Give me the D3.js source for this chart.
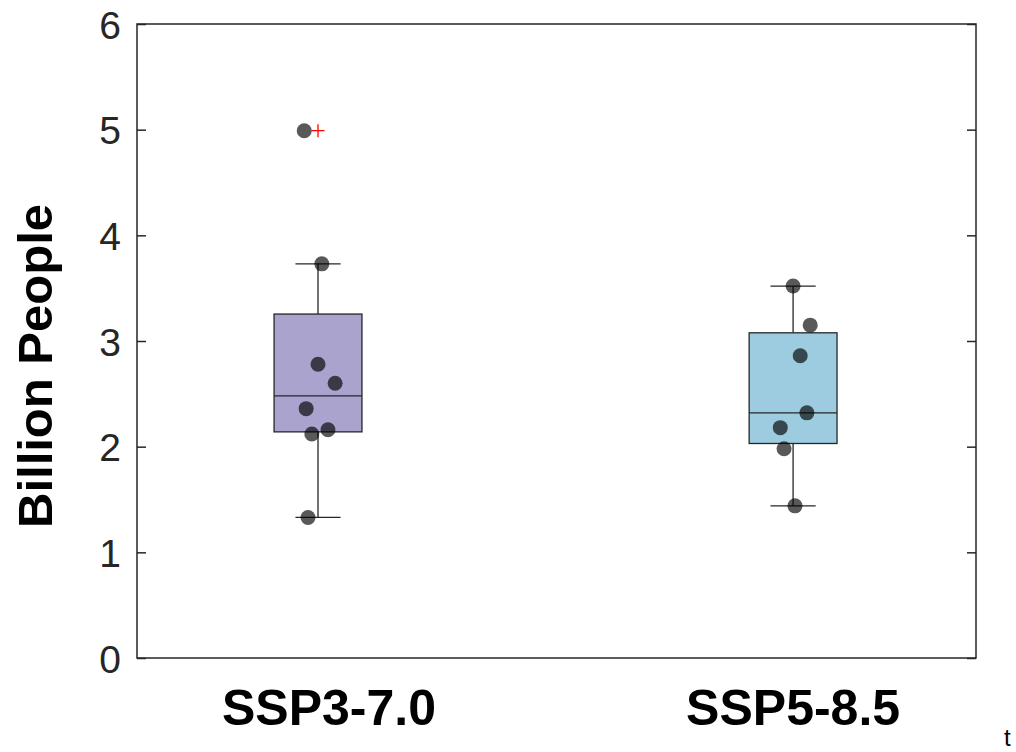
<!DOCTYPE html>
<html>
<head>
<meta charset="utf-8">
<script src="https://cdn.jsdelivr.net/npm/d3@7"></script>
<style>
  body { margin: 0; background: #fff; }
  svg text { font-family: "Liberation Sans", Arial, sans-serif; }
</style>
</head>
<body>
<div id="chart"></div>
<script>
var svgWidth = 1016;
var svgHeight = 752;

var plot = { left: 137, right: 976, top: 24, bottom: 658 };

// data
var scenarios = ["SSP3-7.0", "SSP5-8.5"];
var boxColors = ["#aaa3cd", "#9dcce0"];
var ssp370 = [4.99, 3.73, 2.78, 2.60, 2.36, 2.12, 2.16, 1.33];
var ssp370Jitter = [-0.029, 0.008, 0, 0.036, -0.025, -0.013, 0.021, -0.021];
var ssp585 = [3.52, 3.15, 2.86, 2.32, 2.18, 1.98, 1.44];
var ssp585Jitter = [0, 0.036, 0.015, 0.029, -0.027, -0.019, 0.004];
var yTicks = [0, 1, 2, 3, 4, 5, 6];

var groups = [
  { name: scenarios[0], values: ssp370, jitter: ssp370Jitter, color: boxColors[0] },
  { name: scenarios[1], values: ssp585, jitter: ssp585Jitter, color: boxColors[1] }
];

var axisColor = "#262626";

var svg = d3.select("#chart")
  .append("svg")
  .attr("width", svgWidth)
  .attr("height", svgHeight);

var xScale = d3.scaleLinear()
  .domain([0.619, 2.385])
  .range([plot.left, plot.right]);

var yScale = d3.scaleLinear()
  .domain([0, 6])
  .range([plot.bottom, plot.top]);

// matlab style percentile
function prctile(vals, p) {
  var s = vals.slice().sort(d3.ascending);
  var n = s.length;
  var pos = p * n + 0.5;
  if (pos <= 1) return s[0];
  if (pos >= n) return s[n - 1];
  var lo = Math.floor(pos);
  return s[lo - 1] + (pos - lo) * (s[lo] - s[lo - 1]);
}

function boxStats(vals) {
  var q1 = prctile(vals, 0.25);
  var q3 = prctile(vals, 0.75);
  var med = prctile(vals, 0.5);
  var iqr = q3 - q1;
  var inside = vals.filter(v => v >= q1 - 1.5 * iqr && v <= q3 + 1.5 * iqr);
  return {
    q1: q1, q3: q3, med: med,
    lo: d3.min(inside), hi: d3.max(inside),
    outliers: vals.filter(v => v < q1 - 1.5 * iqr || v > q3 + 1.5 * iqr)
  };
}

var boxW = 0.185;
var capW = 0.095;

groups.forEach(function (g, i) {
  var pos = i + 1;
  var st = boxStats(g.values);
  var cx = xScale(pos);
  var gg = svg.append("g");

  // whiskers
  gg.append("line")
    .attr("x1", cx).attr("x2", cx)
    .attr("y1", yScale(st.q3)).attr("y2", yScale(st.hi))
    .attr("stroke", axisColor).attr("stroke-width", 1.3);
  gg.append("line")
    .attr("x1", cx).attr("x2", cx)
    .attr("y1", yScale(st.q1)).attr("y2", yScale(st.lo))
    .attr("stroke", axisColor).attr("stroke-width", 1.3);
  [st.hi, st.lo].forEach(function (v) {
    gg.append("line")
      .attr("x1", xScale(pos - capW / 2)).attr("x2", xScale(pos + capW / 2))
      .attr("y1", yScale(v)).attr("y2", yScale(v))
      .attr("stroke", axisColor).attr("stroke-width", 1.3);
  });

  // box
  gg.append("rect")
    .attr("x", xScale(pos - boxW / 2))
    .attr("width", xScale(pos + boxW / 2) - xScale(pos - boxW / 2))
    .attr("y", yScale(st.q3))
    .attr("height", yScale(st.q1) - yScale(st.q3))
    .attr("fill", g.color)
    .attr("stroke", axisColor)
    .attr("stroke-width", 1.3);

  gg.append("line")
    .attr("x1", xScale(pos - boxW / 2)).attr("x2", xScale(pos + boxW / 2))
    .attr("y1", yScale(st.med)).attr("y2", yScale(st.med))
    .attr("stroke", axisColor).attr("stroke-width", 1.3);

  // outliers as red plus
  st.outliers.forEach(function (v) {
    var oy = yScale(v);
    gg.append("path")
      .attr("d", `M${cx - 6.5},${oy}H${cx + 6.5}M${cx},${oy - 6.5}V${oy + 6.5}`)
      .attr("stroke", "#ff0000")
      .attr("stroke-width", 1.3)
      .attr("fill", "none");
  });

  // data points
  gg.selectAll("circle")
    .data(g.values)
    .enter()
    .append("circle")
    .attr("cx", (d, j) => xScale(pos + g.jitter[j]))
    .attr("cy", d => yScale(d))
    .attr("r", 7.5)
    .attr("fill", "#000")
    .attr("opacity", 0.65);
});

// axes box
var leftAxis = d3.axisLeft(yScale).tickValues(yTicks).tickFormat(d3.format("d"))
  .tickSize(-9).tickPadding(16);
var rightAxis = d3.axisRight(yScale).tickValues(yTicks).tickSize(-9).tickFormat("");

var yAxisG = svg.append("g")
  .attr("transform", `translate(${plot.left},0)`)
  .call(leftAxis);

var yAxisR = svg.append("g")
  .attr("transform", `translate(${plot.right},0)`)
  .call(rightAxis);

[yAxisG, yAxisR].forEach(function (a) {
  a.select(".domain").remove();
  a.selectAll(".tick line").attr("stroke", axisColor).attr("stroke-width", 1.5);
});

yAxisG.selectAll(".tick text")
  .attr("fill", axisColor)
  .style("font-size", "39px")
  .attr("dy", "0.36em");

svg.append("rect")
  .attr("x", plot.left)
  .attr("y", plot.top)
  .attr("width", plot.right - plot.left)
  .attr("height", plot.bottom - plot.top)
  .attr("fill", "none")
  .attr("stroke", axisColor)
  .attr("stroke-width", 1.5);

// category labels
svg.selectAll(".xlab")
  .data(groups)
  .enter()
  .append("text")
  .attr("class", "xlab")
  .attr("x", (d, i) => xScale(i + 1))
  .attr("dx", (d, i) => i === 0 ? 11 : 0)
  .attr("y", 725)
  .attr("text-anchor", "middle")
  .style("font-size", "50px")
  .style("font-weight", "bold")
  .attr("fill", "#000")
  .text(d => d.name);

// y label
svg.append("text")
  .attr("transform", `translate(52, ${(plot.top + plot.bottom) / 2 + 25}) rotate(-90)`)
  .attr("text-anchor", "middle")
  .style("font-size", "49px")
  .style("font-weight", "bold")
  .attr("fill", "#000")
  .text("Billion People");

svg.append("text")
  .attr("x", 1004)
  .attr("y", 746)
  .style("font-size", "24px")
  .attr("fill", "#000")
  .text("t");
</script>
</body>
</html>
